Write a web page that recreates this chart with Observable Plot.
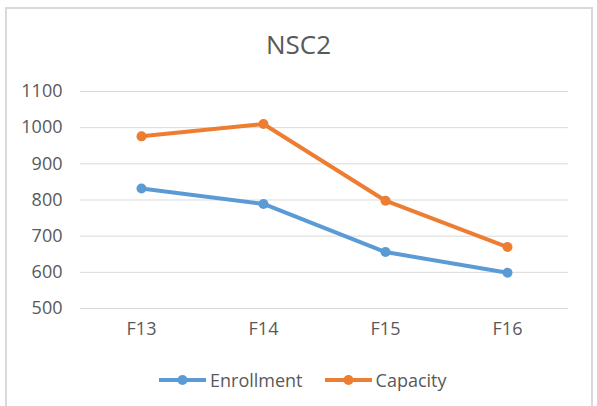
<!DOCTYPE html>
<html>
<head>
<meta charset="utf-8">
<script src="https://cdn.jsdelivr.net/npm/d3@7"></script>
<script src="https://cdn.jsdelivr.net/npm/@observablehq/plot@0.6"></script>
<style>
  html, body { margin: 0; padding: 0; background: #fff; }
  #page { position: relative; width: 597px; height: 406px; overflow: hidden; font-family: "Open Sans", sans-serif; color: #595959; }
  #frame { position: absolute; left: 5px; top: 7px; width: 588px; height: 420px; border: 2px solid #d9d9d9; box-sizing: border-box; }
  #title { position: absolute; left: 0; width: 597px; top: 28px; text-align: center; font-size: 26px; line-height: 32px; color: #595959; }
  #chart { position: absolute; left: 0; top: 70px; }
  #legend { position: absolute; top: 368px; left: 158px; display: flex; align-items: center; font-size: 18px; color: #595959; white-space: nowrap; }
  .item { display: flex; align-items: center; }
  .item svg { display: block; }
  .item span { margin-left: 3px; }
</style>
</head>
<body>
<div id="page">
  <div id="frame"></div>
  <div id="title">NSC2</div>
  <div id="chart"></div>
  <div id="legend"></div>
</div>
<script>
const categories = ["F13", "F14", "F15", "F16"];
const seriesNames = ["Enrollment", "Capacity"];
const enrollment = [832, 789, 656, 599];
const capacity = [976, 1010, 798, 670];
const yTicks = [500, 600, 700, 800, 900, 1000, 1100];
const colors = ["#5B9BD5", "#ED7D31"];

const rows = [];
categories.forEach((c, i) => {
  rows.push({cat: c, series: seriesNames[0], value: enrollment[i]});
  rows.push({cat: c, series: seriesNames[1], value: capacity[i]});
});

const plot = Plot.plot({
  width: 597,
  height: 280,
  marginTop: 21,
  marginBottom: 42,
  marginLeft: 80,
  marginRight: 29,
  style: { fontFamily: "'Open Sans', sans-serif", fontSize: "18px", color: "#595959", background: "transparent" },
  x: { type: "point", domain: categories, padding: 0.5, label: null },
  y: { domain: [500, 1100], label: null },
  color: { domain: seriesNames, range: colors },
  marks: [
    Plot.gridY(yTicks, { stroke: "#d9d9d9", strokeOpacity: 1, strokeWidth: 1 }),
    Plot.axisY(yTicks, { tickSize: 0, tickPadding: 18, tickFormat: d => String(d), label: null, fill: "#595959" }),
    Plot.axisX(categories, { tickSize: 0, tickPadding: 14, label: null, fill: "#595959" }),
    Plot.line(rows, { x: "cat", y: "value", z: "series", stroke: "series", strokeWidth: 4, strokeLinecap: "round", strokeLinejoin: "round" }),
    Plot.dot(rows, { x: "cat", y: "value", fill: "series", r: 5, stroke: null })
  ]
});
document.getElementById("chart").appendChild(plot);

const legend = document.getElementById("legend");
seriesNames.forEach((name, i) => {
  const item = document.createElement("div");
  item.className = "item";
  if (i > 0) item.style.marginLeft = "21px";
  item.innerHTML = `<svg width="49" height="12"><line x1="1" y1="6" x2="48" y2="6" stroke="${colors[i]}" stroke-width="4"/><circle cx="24.5" cy="6" r="5" fill="${colors[i]}"/></svg><span>${name}</span>`;
  legend.appendChild(item);
});
</script>
</body>
</html>
